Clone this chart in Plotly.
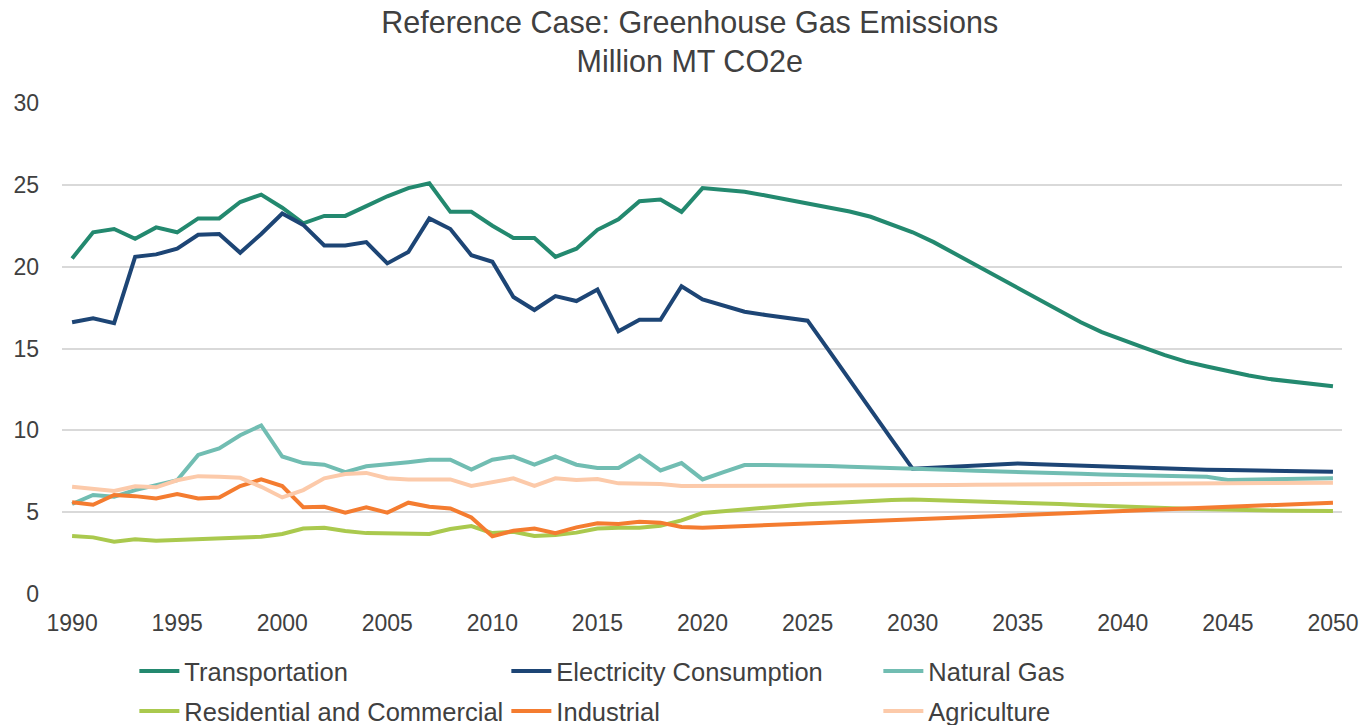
import plotly.graph_objects as go

years = list(range(1990, 2051))

transportation = [20.5, 22.1, 22.3, 21.7, 22.4, 22.1, 22.95, 22.95, 23.95, 24.4,
                  23.6, 22.65, 23.1, 23.1, 23.7, 24.3, 24.8, 25.1, 23.35, 23.35,
                  22.5, 21.75, 21.75, 20.6, 21.1, 22.25, 22.9, 24.0, 24.1, 23.35,
                  24.8, 24.72, 24.58, 24.35, 24.1, 23.88, 23.65, 23.37, 23.05, 22.6,
                  22.1, 21.5, 20.8, 20.1, 19.4, 18.7, 17.95, 17.25, 16.6, 16.0,
                  15.5, 15.05, 14.6, 14.2, 13.9, 13.6, 13.35, 13.13, 12.97, 12.83,
                  12.7]

electricity = [16.6, 16.85, 16.55, 20.6, 20.75, 21.1, 21.95, 22.0, 20.85, 22.0,
               23.25, 22.55, 21.3, 21.3, 21.5, 20.2, 20.9, 22.95, 22.3, 20.7,
               20.3, 18.15, 17.35, 18.2, 17.9, 18.6, 16.05, 16.75, 16.75, 18.8,
               18.0, 17.6, 17.25, 17.05, 16.9, 16.7, 14.9, 13.05, 11.25, 9.45,
               7.65, 7.72, 7.8, 7.87, 7.93, 7.98, 7.93, 7.88, 7.83, 7.78,
               7.74, 7.7, 7.66, 7.62, 7.59, 7.57, 7.55, 7.53, 7.51, 7.49,
               7.47]

natural_gas = [5.5, 6.05, 5.95, 6.35, 6.65, 6.95, 8.5, 8.9, 9.7, 10.3,
               8.4, 8.0, 7.9, 7.45, 7.8, 7.9, 8.05, 8.2, 8.2, 7.6,
               8.2, 8.4, 7.9, 8.4, 7.9, 7.7, 7.7, 8.45, 7.55, 8.0,
               7.0, 7.45, 7.88, 7.88, 7.88, 7.85, 7.82, 7.78, 7.75, 7.72,
               7.68, 7.63, 7.58, 7.53, 7.48, 7.44, 7.41, 7.38, 7.34, 7.3,
               7.27, 7.25, 7.22, 7.2, 7.17, 6.97, 6.99, 7.01, 7.03, 7.05,
               7.07]

residential = [3.55, 3.46, 3.2, 3.34, 3.26, 3.3, 3.34, 3.38, 3.44, 3.5,
               3.67, 4.0, 4.05, 3.85, 3.72, 3.72, 3.67, 3.67, 3.97, 4.15,
               3.72, 3.8, 3.54, 3.6, 3.75, 4.0, 4.05, 4.05, 4.17, 4.5,
               4.95, 5.07, 5.17, 5.28, 5.38, 5.48, 5.56, 5.63, 5.69, 5.74,
               5.77, 5.74, 5.71, 5.68, 5.64, 5.6, 5.55, 5.5, 5.44, 5.38,
               5.33, 5.29, 5.25, 5.21, 5.17, 5.13, 5.12, 5.1, 5.09, 5.08,
               5.07]

industrial = [5.6, 5.45, 6.05, 5.98, 5.84, 6.1, 5.84, 5.9, 6.6, 7.0,
              6.6, 5.3, 5.33, 4.97, 5.29, 4.97, 5.58, 5.33, 5.23, 4.68,
              3.52, 3.87, 4.0, 3.72, 4.07, 4.32, 4.28, 4.42, 4.36, 4.1,
              4.05, 4.1, 4.17, 4.23, 4.28, 4.33, 4.38, 4.43, 4.48, 4.53,
              4.6, 4.65, 4.7, 4.75, 4.8, 4.85, 4.9, 4.95, 5.0, 5.04,
              5.08, 5.13, 5.18, 5.23, 5.28, 5.33, 5.38, 5.43, 5.48, 5.53,
              5.58]

agriculture = [6.55, 6.4, 6.3, 6.58, 6.52, 6.95, 7.2, 7.17, 7.1, 6.55,
               5.9, 6.35, 7.07, 7.33, 7.4, 7.07, 7.0, 7.0, 7.0, 6.6,
               6.85, 7.07, 6.6, 7.07, 6.96, 7.02, 6.76, 6.76, 6.72, 6.6,
               6.6, 6.6, 6.6, 6.6, 6.61, 6.61, 6.62, 6.62, 6.63, 6.63,
               6.64, 6.65, 6.66, 6.67, 6.68, 6.69, 6.7, 6.71, 6.72, 6.73,
               6.74, 6.75, 6.75, 6.76, 6.76, 6.77, 6.77, 6.78, 6.78, 6.79,
               6.8]

series_names = ["Transportation", "Electricity Consumption", "Natural Gas",
                "Residential and Commercial", "Industrial", "Agriculture"]
series_values = [transportation, electricity, natural_gas,
                 residential, industrial, agriculture]
series_colors = ["#23896F", "#1D4575", "#71BDB2", "#AAC94E", "#F47C30", "#FCCAAA"]
series_legend = ["legend", "legend", "legend", "legend2", "legend2", "legend2"]

x_ticks = list(range(1990, 2051, 5))
y_ticks = [0, 5, 10, 15, 20, 25, 30]

FONT = "Arial, 'Liberation Sans', sans-serif"
TXT = "#404040"

fig = go.Figure()
for name, vals, col, lg in zip(series_names, series_values, series_colors, series_legend):
    fig.add_trace(go.Scatter(x=years, y=vals, name=name, mode="lines",
                             line=dict(color=col, width=4), legend=lg))

legend_common = dict(orientation="h", xref="container", yref="container",
                     x=0.0923, xanchor="left", yanchor="top",
                     entrywidth=317, entrywidthmode="pixels", itemwidth=40,
                     font=dict(size=25.5, color=TXT), bgcolor="rgba(0,0,0,0)")

fig.update_layout(
    width=1369, height=725,
    paper_bgcolor="white", plot_bgcolor="white",
    margin=dict(l=54, r=35, t=95, b=139, autoexpand=False),
    font=dict(family=FONT, color=TXT, size=23),
    title=dict(text="Reference Case: Greenhouse Gas Emissions<br>Million MT CO2e",
               x=0.498, xanchor="center", y=0.966, yanchor="top",
               font=dict(family=FONT, size=30.5, color=TXT)),
    xaxis=dict(range=[1989.52, 2050.43], tickvals=x_ticks, showgrid=False,
               zeroline=False, showline=False, ticks="", automargin=False,
               ticklabelstandoff=13,
               tickfont=dict(size=23, color=TXT)),
    yaxis=dict(range=[0, 30], tickvals=y_ticks, showgrid=True,
               gridcolor="#D9D9D9", gridwidth=1.5, zeroline=False,
               showline=False, ticks="", ticklabelstandoff=22, automargin=False,
               tickfont=dict(size=23, color=TXT)),
    legend=dict(legend_common, y=0.1172),
    legend2=dict(legend_common, y=0.0621),
    showlegend=True,
)

fig.write_html("out.html")
